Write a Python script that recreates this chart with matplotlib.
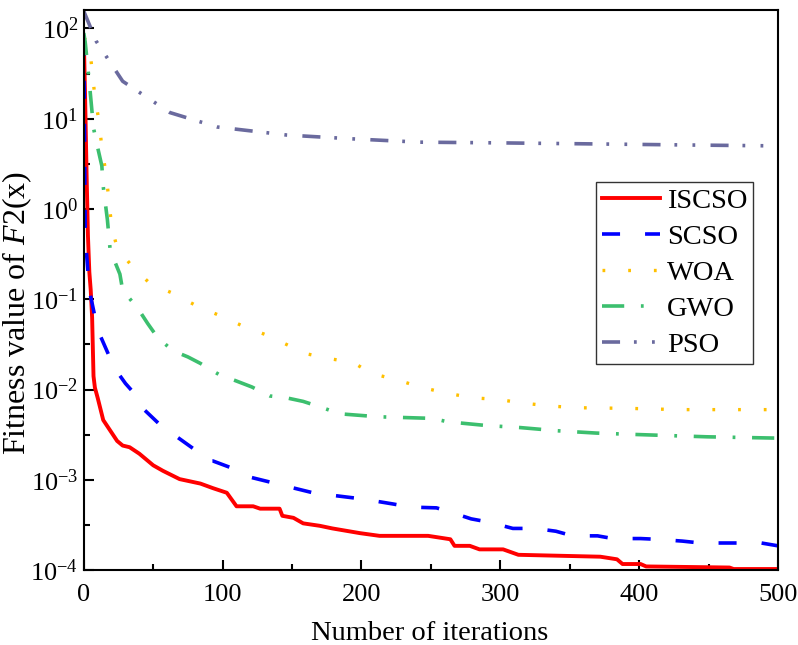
import numpy as np
import matplotlib
matplotlib.use('Agg')
import matplotlib.pyplot as plt

plt.rcParams['font.family'] = ['Liberation Serif', 'DejaVu Serif']
plt.rcParams['mathtext.fontset'] = 'custom'
plt.rcParams['mathtext.rm'] = 'Liberation Serif'
plt.rcParams['mathtext.it'] = 'Liberation Serif:italic'
plt.rcParams['lines.scale_dashes'] = False

# convergence curves (iteration, best fitness)
iscso_it = [0, 1, 2, 3, 4, 5, 6, 7, 8, 10, 14, 24, 28, 33, 40, 50, 57, 69, 84, 93, 103, 110, 122, 127,
            141, 143, 151, 158, 170, 179, 199, 213, 248, 264, 267, 278, 285, 302, 313, 372, 384, 388,
            401, 405, 465, 468, 500]
iscso_val = [79, 15.8, 2.5, 0.5, 0.2, 0.126, 0.063, 0.0141, 0.0105, 0.0081, 0.0046, 0.0027, 0.0024,
             0.0023, 0.00195, 0.00145, 0.00126, 0.00102, 0.00091, 0.00081, 0.00072, 0.00051, 0.00051,
             0.00048, 0.00048, 0.0004, 0.00038, 0.00033, 0.00031, 0.00029, 0.000257, 0.00024, 0.00024,
             0.00022, 0.000186, 0.000186, 0.00017, 0.00017, 0.000148, 0.000141, 0.000132, 0.000117,
             0.000117, 0.00011, 0.000107, 0.000103, 0.000103]

scso_it = [0, 1, 2, 4, 10, 22, 30, 38, 42, 57, 67, 84, 88, 93, 112, 120, 136, 146, 165, 174, 195, 205,
           223, 235, 254, 264, 279, 292, 309, 325, 340, 352, 370, 381, 401, 412, 431, 444, 488, 500]
scso_val = [79, 0.63, 0.32, 0.126, 0.046, 0.0174, 0.0117, 0.0085, 0.0063, 0.0038, 0.003, 0.00195,
            0.00162, 0.00162, 0.00126, 0.00107, 0.00093, 0.00085, 0.00072, 0.00069, 0.00063, 0.0006,
            0.00054, 0.0005, 0.00049, 0.00044, 0.00037, 0.00034, 0.00029, 0.00029, 0.00027, 0.00024,
            0.00024, 0.000224, 0.000224, 0.00022, 0.00021, 0.0002, 0.0002, 0.000186]

woa_it = [0, 4, 6, 8, 11, 13, 16, 18, 20, 24, 35, 48, 64, 81, 99, 114, 132, 146, 160, 177, 194, 207,
          225, 244, 262, 280, 298, 316, 335, 354, 391, 429, 500]
woa_val = [79, 66, 34, 17.4, 9.3, 4.8, 2.45, 1.29, 0.65, 0.37, 0.23, 0.148, 0.117, 0.085, 0.065, 0.051,
           0.04, 0.0316, 0.025, 0.022, 0.02, 0.0151, 0.0129, 0.0105, 0.0091, 0.0081, 0.0078, 0.0071,
           0.0066, 0.0063, 0.0062, 0.006, 0.006]

gwo_it = [0, 1, 4, 7, 9, 13, 14, 17, 19, 26, 28, 39, 46, 53, 64, 75, 84, 98, 109, 121, 134, 146, 158,
          172, 184, 212, 251, 262, 290, 314, 341, 369, 393, 420, 449, 500]
gwo_val = [89, 71, 25, 7.9, 5.6, 3.0, 1.78, 0.76, 0.35, 0.19, 0.126, 0.079, 0.054, 0.038, 0.027, 0.023,
           0.0195, 0.0145, 0.0126, 0.0107, 0.0085, 0.0081, 0.0074, 0.0063, 0.0054, 0.005, 0.0048,
           0.0044, 0.004, 0.0038, 0.0035, 0.0033, 0.0032, 0.0031, 0.003, 0.0029]

pso_it = [0, 9, 28, 62, 96, 146, 192, 242, 300, 372, 444, 500]
pso_val = [155, 72, 26, 11.7, 8.1, 6.6, 6.0, 5.5, 5.4, 5.25, 5.1, 5.0]

fig = plt.figure(figsize=(7.98, 6.45), dpi=100)
ax = fig.add_axes([0.105, 0.116, 0.87, 0.8685])

ax.plot(iscso_it, iscso_val, color='#FF0000', lw=2.8, label='ISCSO')
ax.plot(scso_it, scso_val, color='#0000FF', lw=2.6, dashes=(13, 18), label='SCSO')
ax.plot(woa_it, woa_val, color='#FFC000', lw=2.4, dashes=(2, 16.5), label='WOA')
ax.plot(gwo_it, gwo_val, color='#3CBF6E', lw=2.6, dashes=(16, 12, 2, 12), label='GWO')
ax.plot(pso_it, pso_val, color='#6A6A9E', lw=2.6, dashes=(13, 10, 2, 11, 2, 11), label='PSO')

ax.set_yscale('log')
ax.set_xlim(0, 500)
ax.set_ylim(1e-4, 160)
ax.set_xticks([0, 100, 200, 300, 400, 500])
ax.set_xticks([50, 150, 250, 350, 450], minor=True)
ax.set_yticks([1e-4, 1e-3, 1e-2, 1e-1, 1e0, 1e1, 1e2])
ax.set_yticklabels(['$10^{-4}$', '$10^{-3}$', '$10^{-2}$', '$10^{-1}$', '$10^{0}$', '$10^{1}$', '$10^{2}$'])
ax.set_yticks([10 ** (k + 0.5) for k in range(-4, 2)], minor=True)
ax.yaxis.set_minor_formatter(matplotlib.ticker.NullFormatter())

ax.tick_params(which='major', direction='in', length=7, width=1.5, labelsize=19)
ax.tick_params(which='minor', direction='in', length=4, width=1.5)
ax.tick_params(axis='x', which='major', pad=10)
ax.tick_params(axis='y', which='major', pad=4)
for s in ax.spines.values():
    s.set_linewidth(1.5)

fig.text(430 / 798, 1 - 640 / 645, 'Number of iterations', fontsize=20.5, ha='center', va='baseline')
fig.text(17 / 798, 1 - 313 / 645, 'Fitness value of $\\it{F}$2(x)', fontsize=23,
         rotation=90, ha='center', va='center')

leg = ax.legend(loc='upper left', bbox_to_anchor=(0.738, 0.693), borderaxespad=0, fontsize=20.5,
                handlelength=2.05, handletextpad=0.25, labelspacing=0.36, fancybox=False,
                framealpha=1, edgecolor='#333333', borderpad=0.2)
leg.get_frame().set_linewidth(1.0)

fig.savefig('out.png', dpi=100)
